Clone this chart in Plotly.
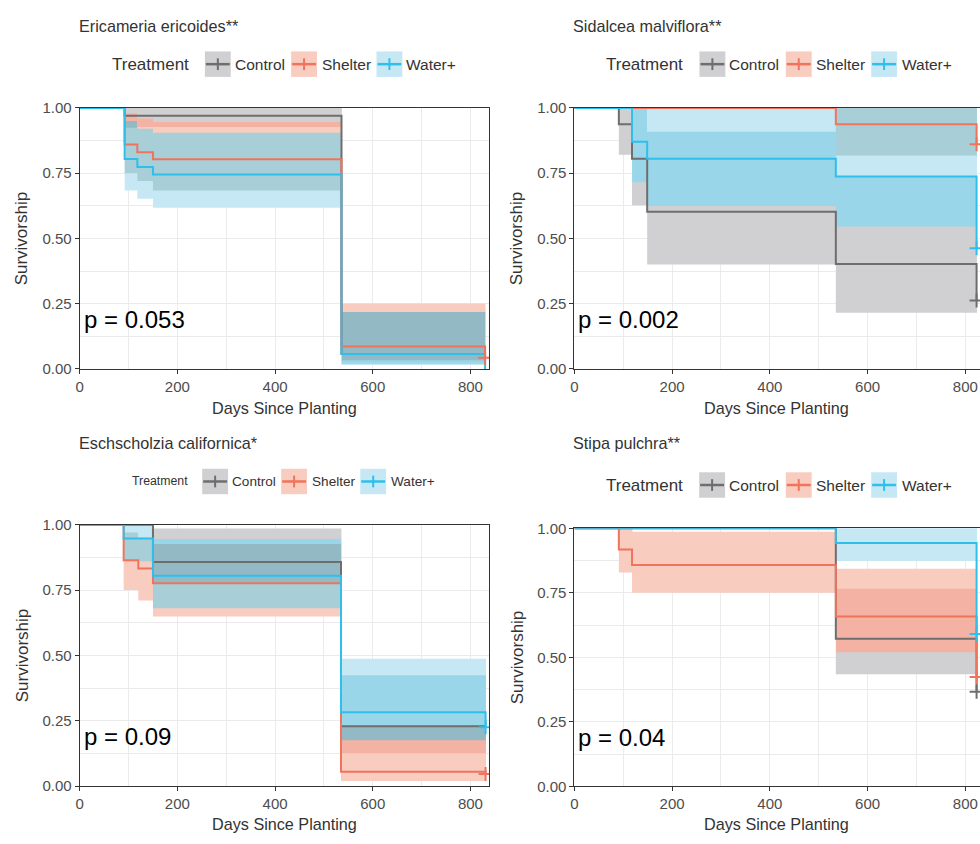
import plotly.graph_objects as go

# ---------------- data ----------------
GROUPS = ["Control", "Shelter", "Water+"]
X_TICKS = [0, 200, 400, 600, 800]
Y_TICKS = [0, 0.25, 0.5, 0.75, 1.0]
Y_TICK_TEXT = ["0.00", "0.25", "0.50", "0.75", "1.00"]

# Panel 1: Ericameria ericoides
eri_title = "Ericameria ericoides**"
eri_p = "p = 0.053"
eri_ctrl_t = [0, 92, 536, 830]
eri_ctrl_s = [1.0, 0.97, 0.057, 0.057]
eri_ctrl_lo = [1.0, 0.924, 0.02, 0.02]
eri_ctrl_hi = [1.0, 1.0, 0.218, 0.218]
eri_shel_t = [0, 92, 118, 150, 536, 830]
eri_shel_s = [1.0, 0.86, 0.83, 0.803, 0.086, 0.043]
eri_shel_lo = [1.0, 0.75, 0.72, 0.684, 0.03, 0.03]
eri_shel_hi = [1.0, 0.98, 0.96, 0.946, 0.248, 0.248]
eri_wat_t = [0, 92, 118, 150, 536, 830]
eri_wat_s = [1.0, 0.804, 0.774, 0.745, 0.057, 0.0]
eri_wat_lo = [1.0, 0.684, 0.6525, 0.6175, 0.015, 0.015]
eri_wat_hi = [1.0, 0.95, 0.92, 0.905, 0.218, 0.218]
eri_censored = ["Shelter"]

# Panel 2: Sidalcea malviflora
sid_title = "Sidalcea malviflora**"
sid_p = "p = 0.002"
sid_ctrl_t = [0, 91, 118, 149, 535, 823]
sid_ctrl_s = [1.0, 0.9375, 0.805, 0.6025, 0.4025, 0.2625]
sid_ctrl_lo = [1.0, 0.821, 0.6275, 0.40, 0.215, 0.215]
sid_ctrl_hi = [1.0, 1.0, 1.0, 0.909, 0.736, 0.736]
sid_shel_t = [0, 535, 823]
sid_shel_s = [1.0, 0.9375, 0.861]
sid_shel_lo = [1.0, 0.8175, 0.8175]
sid_shel_hi = [1.0, 1.0, 1.0]
sid_wat_t = [0, 118, 149, 535, 823]
sid_wat_s = [1.0, 0.871, 0.805, 0.7375, 0.4625]
sid_wat_lo = [1.0, 0.715, 0.624, 0.546, 0.546]
sid_wat_hi = [1.0, 1.0, 1.0, 1.0, 1.0]
sid_censored = ["Control", "Shelter", "Water+"]

# Panel 3: Eschscholzia californica
esc_title = "Eschscholzia californica*"
esc_p = "p = 0.09"
esc_ctrl_t = [0, 150, 535, 831]
esc_ctrl_s = [1.0, 0.8575, 0.229, 0.229]
esc_ctrl_lo = [1.0, 0.774, 0.125, 0.125]
esc_ctrl_hi = [1.0, 0.9825, 0.421, 0.421]
esc_shel_t = [0, 90, 120, 150, 535, 831]
esc_shel_s = [1.0, 0.864, 0.8325, 0.776, 0.055, 0.046]
esc_shel_lo = [1.0, 0.75, 0.71, 0.649, 0.019, 0.019]
esc_shel_hi = [1.0, 0.97, 0.95, 0.926, 0.228, 0.228]
esc_wat_t = [0, 90, 150, 535, 831]
esc_wat_s = [1.0, 0.9475, 0.805, 0.2825, 0.225]
esc_wat_lo = [1.0, 0.86, 0.68, 0.172, 0.172]
esc_wat_hi = [1.0, 1.0, 0.945, 0.484, 0.484]
esc_censored = ["Shelter", "Water+"]

# Panel 4: Stipa pulchra
sti_title = "Stipa pulchra**"
sti_p = "p = 0.04"
sti_ctrl_t = [0, 535, 823]
sti_ctrl_s = [1.0, 0.572, 0.367]
sti_ctrl_lo = [1.0, 0.434, 0.434]
sti_ctrl_hi = [1.0, 0.763, 0.763]
sti_shel_t = [0, 91, 118, 535, 823]
sti_shel_s = [1.0, 0.918, 0.858, 0.658, 0.424]
sti_shel_lo = [1.0, 0.829, 0.75, 0.52, 0.52]
sti_shel_hi = [1.0, 1.0, 0.984, 0.84, 0.84]
sti_wat_t = [0, 535, 823]
sti_wat_s = [1.0, 0.943, 0.59]
sti_wat_lo = [1.0, 0.873, 0.873]
sti_wat_hi = [1.0, 1.0, 1.0]
sti_censored = ["Control", "Shelter", "Water+"]

# ---------------- style ----------------
W, H = 980, 844
LINE_COLORS = {"Control": "#6e6e6e", "Shelter": "#F0735C", "Water+": "#2FBFEA"}
# colours of the translucent confidence bands alone and where they overlap
BAND_COLORS = {
    frozenset(["Control"]): "#d0d0d2",
    frozenset(["Shelter"]): "#f9ccc0",
    frozenset(["Water+"]): "#c6e8f5",
    frozenset(["Control", "Shelter"]): "#f3b2a4",
    frozenset(["Control", "Water+"]): "#99d6ea",
    frozenset(["Shelter", "Water+"]): "#a8ced7",
    frozenset(["Control", "Shelter", "Water+"]): "#93bac4",
}
BOX_COLORS = {"Control": "#d0d0d2", "Shelter": "#f9ccc0", "Water+": "#c6e8f5"}
FONT = "Liberation Sans, Arial, sans-serif"
TEXT_DARK = "#333333"
TICK_TEXT = "#4d4d4d"
GRID = "#ebebeb"


def pxx(x):
    return x / W


def pxy(y):
    return 1 - y / H


def series(prefix):
    g = globals()
    keys = {"Control": "ctrl", "Shelter": "shel", "Water+": "wat"}
    out = {}
    for grp in GROUPS:
        k = keys[grp]
        out[grp] = dict(t=g[f"{prefix}_{k}_t"], s=g[f"{prefix}_{k}_s"],
                        lo=g[f"{prefix}_{k}_lo"], hi=g[f"{prefix}_{k}_hi"])
    return out


def step_at(ts, vs, x):
    v = vs[0]
    for tt, vv in zip(ts, vs):
        if tt <= x:
            v = vv
    return v


def band_polygons(data):
    """Split the confidence bands into non-overlapping pieces coloured by which bands overlap."""
    times = sorted(set(tt for g in GROUPS for tt in data[g]["t"]))
    polys = {}
    for k in range(len(times) - 1):
        x0, x1 = times[k], times[k + 1]
        iv = {}
        for g in GROUPS:
            d = data[g]
            if x1 <= d["t"][-1]:
                iv[g] = (step_at(d["t"], d["lo"], x0), step_at(d["t"], d["hi"], x0))
        bps = sorted(set(v for lo_hi in iv.values() for v in lo_hi))
        for a, b in zip(bps[:-1], bps[1:]):
            if b - a < 1e-9:
                continue
            mem = frozenset(g for g, (lo, hi) in iv.items() if lo <= a + 1e-9 and hi >= b - 1e-9)
            if not mem:
                continue
            xs, ys = polys.setdefault(mem, ([], []))
            xs += [x0, x1 + 0.8, x1 + 0.8, x0, x0, None]
            ys += [a, a, b + 0.003, b + 0.003, a, None]
    return polys


panels = [
    dict(prefix="eri", title=eri_title, p=eri_p, cens=eri_censored,
         box=(76, 487, 101, 367.3), xmax=838, right_side=False,
         title_y=17.3, leg_y=56.3, leg_title_x=109, leg_box_x=[201.7, 288.3, 374],
         leg_lab_x=[233, 320, 405], leg_title_size=17, leg_lab_size=15.5,
         ytitle_x=18, xtitle_y=407),
    dict(prefix="sid", title=sid_title, p=sid_p, cens=sid_censored,
         box=(572.7, 980, 101, 367.3), xmax=830, right_side=True,
         title_y=17.3, leg_y=56.3, leg_title_x=605, leg_box_x=[698.3, 785, 870.7],
         leg_lab_x=[729.3, 816, 902.3], leg_title_size=17, leg_lab_size=15.5,
         ytitle_x=515, xtitle_y=407),
    dict(prefix="esc", title=esc_title, p=esc_p, cens=esc_censored,
         box=(76, 487, 526.3, 793), xmax=838, right_side=False,
         title_y=443, leg_y=482.2, leg_title_x=129.3, leg_box_x=[199, 278.3, 357.7],
         leg_lab_x=[230, 310, 389.3], leg_title_size=12.3, leg_lab_size=13.6,
         ytitle_x=18, xtitle_y=832),
    dict(prefix="sti", title=sti_title, p=sti_p, cens=sti_censored,
         box=(572.7, 980, 530, 793.3), xmax=830, right_side=True,
         title_y=443, leg_y=485.8, leg_title_x=605, leg_box_x=[698, 785, 870.7],
         leg_lab_x=[729.3, 816, 902.3], leg_title_size=17, leg_lab_size=15.5,
         ytitle_x=515, xtitle_y=832),
]

fig = go.Figure()
annotations = []
shapes = []
layout_axes = {}

for i, pan in enumerate(panels, start=1):
    xa = "x" if i == 1 else f"x{i}"
    ya = "y" if i == 1 else f"y{i}"
    data = series(pan["prefix"])
    # confidence bands
    for mem, (xs, ys) in band_polygons(data).items():
        fig.add_trace(go.Scatter(x=xs, y=ys, mode="lines", fill="toself",
                                 fillcolor=BAND_COLORS[mem], line=dict(width=0),
                                 xaxis=xa, yaxis=ya, showlegend=False, hoverinfo="skip"))
    # survival curves
    for grp in GROUPS:
        d = data[grp]
        fig.add_trace(go.Scatter(x=d["t"], y=d["s"], mode="lines", name=grp,
                                 line=dict(color=LINE_COLORS[grp], width=2, shape="hv"),
                                 xaxis=xa, yaxis=ya, showlegend=False))
    # censor marks
    for grp in pan["cens"]:
        d = data[grp]
        fig.add_trace(go.Scatter(x=[d["t"][-1]], y=[d["s"][-1]], mode="markers",
                                 marker=dict(symbol="cross-thin", size=10,
                                             line=dict(color=LINE_COLORS[grp], width=2)),
                                 xaxis=xa, yaxis=ya, showlegend=False, hoverinfo="skip"))

    l, r, t, b = pan["box"]
    xkey = "xaxis" if i == 1 else f"xaxis{i}"
    ykey = "yaxis" if i == 1 else f"yaxis{i}"
    layout_axes[xkey] = dict(
        domain=[pxx(l), pxx(r)], anchor=ya, range=[0, pan["xmax"]],
        tickvals=X_TICKS, ticktext=[str(v) for v in X_TICKS],
        showgrid=True, gridcolor=GRID, gridwidth=1,
        minor=dict(dtick=100, tick0=0, showgrid=True, gridcolor=GRID, gridwidth=1, ticks=""),
        showline=True, linecolor=TEXT_DARK, linewidth=1, mirror=True,
        ticks="outside", ticklen=4, tickcolor=TEXT_DARK, tickwidth=1,
        tickfont=dict(family=FONT, size=15, color=TICK_TEXT), zeroline=False,
    )
    layout_axes[ykey] = dict(
        domain=[pxy(b), pxy(t)], anchor=xa, range=[0, 1],
        tickvals=Y_TICKS, ticktext=Y_TICK_TEXT,
        showgrid=True, gridcolor=GRID, gridwidth=1,
        minor=dict(dtick=0.125, tick0=0, showgrid=True, gridcolor=GRID, gridwidth=1, ticks=""),
        showline=True, linecolor=TEXT_DARK, linewidth=1, mirror=not pan["right_side"],
        ticks="outside", ticklen=4, tickcolor=TEXT_DARK, tickwidth=1,
        tickfont=dict(family=FONT, size=15, color=TICK_TEXT), zeroline=False,
    )

    # panel title
    annotations.append(dict(x=pxx(l - 3), y=pxy(pan["title_y"]), xref="paper", yref="paper",
                            text=pan["title"], showarrow=False, xanchor="left", yanchor="middle",
                            font=dict(family=FONT, size=16.2, color=TEXT_DARK)))
    # axis titles
    annotations.append(dict(x=pxx(pan["ytitle_x"]), y=pxy((t + b) / 2), xref="paper", yref="paper",
                            text="Survivorship", textangle=-90, showarrow=False,
                            xanchor="center", yanchor="middle",
                            font=dict(family=FONT, size=17, color=TEXT_DARK)))
    annotations.append(dict(x=pxx((l + r) / 2 if not pan["right_side"] else 776),
                            y=pxy(pan["xtitle_y"]), xref="paper", yref="paper",
                            text="Days Since Planting", showarrow=False,
                            xanchor="center", yanchor="middle",
                            font=dict(family=FONT, size=16.2, color=TEXT_DARK)))
    # log-rank p-value
    annotations.append(dict(x=4, y=0.19, xref=xa, yref=ya, text=pan["p"], showarrow=False,
                            xanchor="left", yanchor="middle",
                            font=dict(family=FONT, size=24, color="#000000")))
    # legend row
    ly = pan["leg_y"]
    annotations.append(dict(x=pxx(pan["leg_title_x"] - 3), y=pxy(ly), xref="paper", yref="paper",
                            text="Treatment", showarrow=False, xanchor="left", yanchor="middle",
                            font=dict(family=FONT, size=pan["leg_title_size"], color=TEXT_DARK)))
    for grp, bx, lx in zip(GROUPS, pan["leg_box_x"], pan["leg_lab_x"]):
        shapes.append(dict(type="rect", xref="paper", yref="paper",
                           x0=pxx(bx), x1=pxx(bx + 26), y0=pxy(ly - 13), y1=pxy(ly + 13),
                           fillcolor=BOX_COLORS[grp], line=dict(width=0)))
        shapes.append(dict(type="line", xref="paper", yref="paper",
                           x0=pxx(bx + 1), x1=pxx(bx + 25), y0=pxy(ly), y1=pxy(ly),
                           line=dict(color=LINE_COLORS[grp], width=2.5)))
        shapes.append(dict(type="line", xref="paper", yref="paper",
                           x0=pxx(bx + 13), x1=pxx(bx + 13), y0=pxy(ly - 6), y1=pxy(ly + 6),
                           line=dict(color=LINE_COLORS[grp], width=2)))
        annotations.append(dict(x=pxx(lx - 3), y=pxy(ly), xref="paper", yref="paper",
                                text=grp, showarrow=False, xanchor="left", yanchor="middle",
                                font=dict(family=FONT, size=pan["leg_lab_size"], color=TEXT_DARK)))

fig.update_layout(
    width=W, height=H, margin=dict(l=0, r=0, t=0, b=0),
    paper_bgcolor="white", plot_bgcolor="white",
    showlegend=False, annotations=annotations, shapes=shapes,
    font=dict(family=FONT),
    **layout_axes,
)

fig.write_html("out.html")
